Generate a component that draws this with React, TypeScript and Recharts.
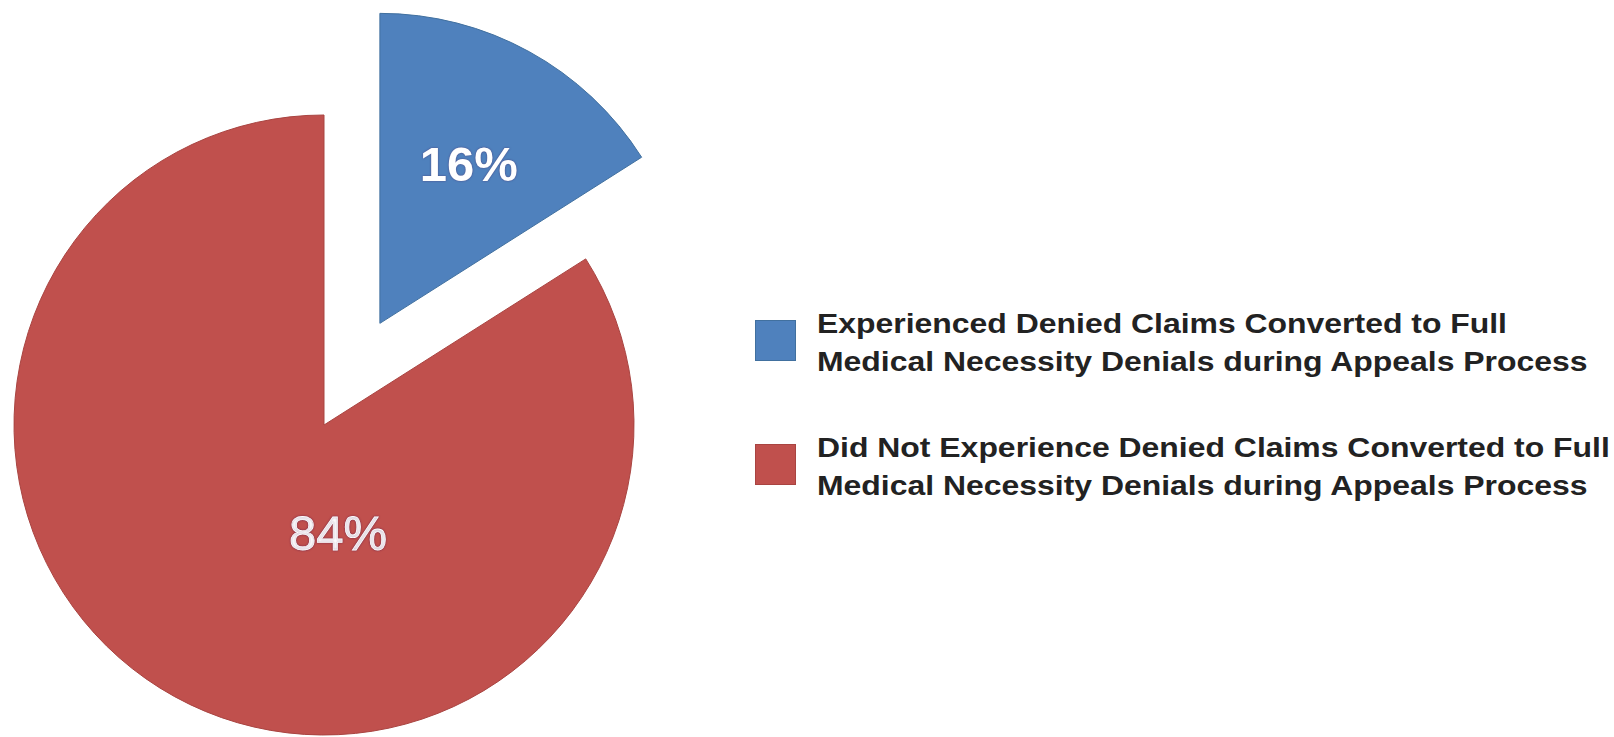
import { PieChart, Pie, Cell, Legend } from 'recharts'

const categories = [
  'Experienced Denied Claims Converted to Full\nMedical Necessity Denials during Appeals Process',
  'Did Not Experience Denied Claims Converted to Full\nMedical Necessity Denials during Appeals Process',
]
const shares = [16, 84]
const pctLabels = ['16%', '84%']
const colors = ['#4F81BD', '#C0504D']
const strokes = ['#41709F', '#A94441']

const data = categories.map((name, i) => ({ name, value: shares[i], label: pctLabels[i] }))

const CX = 324
const CY = 425
const R = 310
const EXPLODE = 116
// blue slice pulled out along its mid angle (16% -> 28.8deg clockwise from top)
const midRad = ((shares[0] / 100) * 360 / 2) * Math.PI / 180
const BX = CX + EXPLODE * Math.sin(midRad)
const BY = CY - EXPLODE * Math.cos(midRad)

const font = '"Liberation Sans", Arial, sans-serif'

function makeLabel(which: number) {
  return (props: any) => {
    if (props.index !== which) return null
    const { cx, cy } = props
    const x = which === 0 ? cx + 89 : cx + 14
    const y = which === 0 ? cy - 159 : cy + 108
    return (
      <text
        x={x}
        y={y}
        textAnchor="middle"
        dominantBaseline="central"
        fill="#fff"
        stroke={which === 0 ? 'none' : '#fff'}
        strokeWidth={0.8}
        fontFamily={font}
        fontWeight={which === 0 ? 'bold' : 'normal'}
        fontSize={49}
        style={{ textShadow: '0 0 2px rgba(70,20,80,0.6)' }}
      >
        {props.payload.label}
      </text>
    )
  }
}

function LegendBox() {
  return (
    <div style={{ fontFamily: font }}>
      {data.map((d, i) => (
        <div key={i} style={{ position: 'relative', height: 124 }}>
          <div
            style={{
              position: 'absolute',
              left: 0,
              top: 15,
              width: 39,
              height: 39,
              background: colors[i],
              border: `1px solid ${strokes[i]}`,
            }}
          />
          <div
            style={{
              position: 'absolute',
              left: 62,
              top: 0,
              fontSize: 28,
              lineHeight: '38px',
              fontWeight: 'bold',
              color: '#222',
              whiteSpace: 'pre',
              transform: 'scaleX(1.14)',
              transformOrigin: 'left top',
            }}
          >
            {d.name}
          </div>
        </div>
      ))}
    </div>
  )
}

export default function App() {
  return (
    <div style={{ position: 'absolute', left: 0, top: 0, background: '#fff' }}>
      <PieChart width={1614} height={737} margin={{ top: 0, right: 0, bottom: 0, left: 0 }}>
        <Pie
          data={data}
          dataKey="value"
          cx={CX}
          cy={CY}
          outerRadius={R}
          startAngle={90}
          endAngle={-270}
          isAnimationActive={false}
          labelLine={false}
          label={makeLabel(1)}
        >
          {data.map((_, i) => (
            <Cell key={i} fill={i === 1 ? colors[1] : 'transparent'} stroke={i === 1 ? strokes[1] : 'none'} strokeWidth={1} />
          ))}
        </Pie>
        <Pie
          data={data}
          dataKey="value"
          cx={BX}
          cy={BY}
          outerRadius={R}
          startAngle={90}
          endAngle={-270}
          isAnimationActive={false}
          labelLine={false}
          label={makeLabel(0)}
        >
          {data.map((_, i) => (
            <Cell key={i} fill={i === 0 ? colors[0] : 'transparent'} stroke={i === 0 ? strokes[0] : 'none'} strokeWidth={1} />
          ))}
        </Pie>
        <Legend
          layout="vertical"
          content={() => <LegendBox />}
          wrapperStyle={{ position: 'absolute', left: 755, top: 305, width: 860, bottom: 'auto' }}
        />
      </PieChart>
    </div>
  )
}
